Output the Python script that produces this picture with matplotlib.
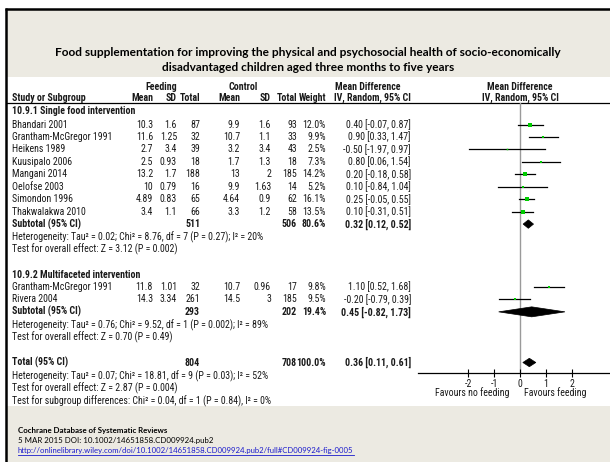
import matplotlib
matplotlib.use("Agg")
import matplotlib.pyplot as plt
from matplotlib import font_manager
from matplotlib.font_manager import FontProperties
from matplotlib.patches import Polygon, Rectangle
import numpy as np

# ---- study data -----------------------------------------------------------
studies1 = ["Bhandari 2001", "Grantham-McGregor 1991", "Heikens 1989", "Kuusipalo 2006",
            "Mangani 2014", "Oelofse 2003", "Simondon 1996", "Thakwalakwa 2010"]
feed_mean1 = [10.3, 11.6, 2.7, 2.5, 13.2, 10, 4.89, 3.4]
feed_sd1 = [1.6, 1.25, 3.4, 0.93, 1.7, 0.79, 0.83, 1.1]
feed_n1 = [87, 32, 39, 18, 188, 16, 65, 66]
ctrl_mean1 = [9.9, 10.7, 3.2, 1.7, 13, 9.9, 4.64, 3.3]
ctrl_sd1 = [1.6, 1.1, 3.4, 1.3, 2, 1.63, 0.9, 1.2]
ctrl_n1 = [93, 33, 43, 18, 185, 14, 62, 58]
weight1 = [12.0, 9.9, 2.5, 7.3, 14.2, 5.2, 16.1, 13.5]
md1 = [0.40, 0.90, -0.50, 0.80, 0.20, 0.10, 0.25, 0.10]
lo1 = [-0.07, 0.33, -1.97, 0.06, -0.18, -0.84, -0.05, -0.31]
hi1 = [0.87, 1.47, 0.97, 1.54, 0.58, 1.04, 0.55, 0.51]

studies2 = ["Grantham-McGregor 1991", "Rivera 2004"]
feed_mean2 = [11.8, 14.3]
feed_sd2 = [1.01, 3.34]
feed_n2 = [32, 261]
ctrl_mean2 = [10.7, 14.5]
ctrl_sd2 = [0.96, 3]
ctrl_n2 = [17, 185]
weight2 = [9.8, 9.5]
md2 = [1.10, -0.20]
lo2 = [0.52, -0.79]
hi2 = [1.68, 0.39]

# pooled estimates: (feeding total, control total, weight, md, lower, upper)
subtotal1 = (511, 506, 80.6, 0.32, 0.12, 0.52)
subtotal2 = (293, 202, 19.4, 0.45, -0.82, 1.73)
total = (804, 708, 100.0, 0.36, 0.11, 0.61)

het1 = ["Heterogeneity: Tau\u00b2 = 0.02; Chi\u00b2 = 8.76, df = 7 (P = 0.27); I\u00b2 = 20%",
        "Test for overall effect: Z = 3.12 (P = 0.002)"]
het2 = ["Heterogeneity: Tau\u00b2 = 0.76; Chi\u00b2 = 9.52, df = 1 (P = 0.002); I\u00b2 = 89%",
        "Test for overall effect: Z = 0.70 (P = 0.49)"]
het_total = ["Heterogeneity: Tau\u00b2 = 0.07; Chi\u00b2 = 18.81, df = 9 (P = 0.03); I\u00b2 = 52%",
             "Test for overall effect: Z = 2.87 (P = 0.004)",
             "Test for subgroup differences: Chi\u00b2 = 0.04, df = 1 (P = 0.84), I\u00b2 = 0%"]

x_ticks = [-2, -1, 0, 1, 2]
favours_left = "Favours no feeding"
favours_right = "Favours feeding"

title_lines = ["Food supplementation for improving the physical and psychosocial health of socio-economically",
               "disadvantaged children aged three months to five years"]
footer_lines = ["Cochrane Database of Systematic Reviews",
                "5 MAR 2015 DOI: 10.1002/14651858.CD009924.pub2",
                "http://onlinelibrary.wiley.com/doi/10.1002/14651858.CD009924.pub2/full#CD009924-fig-0005"]


# ---- table font: prefer a narrow sans face --------------------------------
def pick_table_fonts():
    preferred = ["Liberation Sans Narrow", "Arial Narrow", "Liberation Sans", "Arial",
                 "Roboto Condensed", "Roboto", "Noto Sans", "Open Sans", "DejaVu Sans"]
    narrow = [f for f in font_manager.fontManager.ttflist
              if f.stretch in ("condensed", "semi-condensed", "extra-condensed")
              and f.style == "normal"]
    names = sorted({f.name for f in narrow},
                   key=lambda n: preferred.index(n) if n in preferred else len(preferred))
    for name in names:
        group = [f for f in narrow if f.name == name]
        reg = min(group, key=lambda f: abs(int(f.weight) - 400))
        bold = min(group, key=lambda f: abs(int(f.weight) - 700))
        if int(reg.weight) <= 500 and int(bold.weight) >= 600:
            return FontProperties(fname=reg.fname), FontProperties(fname=bold.fname)
    return (FontProperties(family="Liberation Sans"),
            FontProperties(family="Liberation Sans", weight="bold"))


FP_REG, FP_BOLD = pick_table_fonts()

# ---- figure ---------------------------------------------------------------
W, H = 610, 462
fig = plt.figure(figsize=(W / 100, H / 100), dpi=100)
fig.patch.set_facecolor("white")
bg = fig.add_axes([0, 0, 1, 1])
bg.set_xlim(0, W)
bg.set_ylim(H, 0)
bg.axis("off")

# size the table face so a heterogeneity line spans ~256 px
renderer = fig.canvas.get_renderer()
probe_fp = FP_REG.copy()
probe_fp.set_size(10)
probe = bg.text(0, 0, het1[0], fontproperties=probe_fp)
probe_w = probe.get_window_extent(renderer).width
probe.remove()
FS = min(7.7, 10 * 250 / probe_w)


def fp(bold=False, size=None):
    p = (FP_BOLD if bold else FP_REG).copy()
    p.set_size(size or FS)
    return p


BEIGE = "#ECEAE2"
TXT = "#1a1a1a"

# panels and frame
bg.add_patch(Rectangle((7, 10), W - 7, 67, facecolor=BEIGE, edgecolor="none"))
bg.add_patch(Rectangle((7, 406), W - 7, H - 406, facecolor=BEIGE, edgecolor="none"))
bg.plot([5.5, 5.5], [8, H], color="black", lw=1.8, solid_capstyle="butt")
bg.plot([4.5, W], [8.5, 8.5], color="black", lw=1.8, solid_capstyle="butt")

# title
for i, line in enumerate(title_lines):
    bg.text(308, 53 + 14.5 * i, line, ha="center", va="center", fontsize=8.6,
            fontweight="bold", family="Lato", color="black")

# footer
bg.text(18, 431, footer_lines[0], ha="left", va="center", fontsize=5.7,
        fontweight="bold", family="Lato", color="black")
bg.text(18, 441, footer_lines[1], ha="left", va="center", fontsize=5.7,
        family="Lato", color="black")
link = bg.text(18, 451, footer_lines[2], ha="left", va="center", fontsize=5.6,
               family="Lato", color="#1a1acc")
bb = link.get_window_extent(renderer).transformed(bg.transData.inverted())
bg.plot([bb.x0, bb.x1], [454.5, 454.5], color="#1a1acc", lw=0.6)

# column positions (right edges)
X_NAME = 12
X_FM, X_FSD, X_FN = 153, 177, 200
X_CM, X_CSD, X_CN = 240, 271, 297
X_W, X_CI = 326, 411


def txt(x, y, s, ha="right", bold=False):
    bg.text(x, y, s, ha=ha, va="center", fontproperties=fp(bold), color=TXT)


# header
txt(161, 86.5, "Feeding", ha="center", bold=True)
txt(243, 86.5, "Control", ha="center", bold=True)
txt(368, 86.5, "Mean Difference", ha="center", bold=True)
txt(520, 86.5, "Mean Difference", ha="center", bold=True)
hdr_y = 98
txt(X_NAME, hdr_y, "Study or Subgroup", ha="left", bold=True)
for x, s in [(X_FM, "Mean"), (X_FSD, "SD"), (X_FN, "Total"), (X_CM, "Mean"),
             (X_CSD, "SD"), (X_CN, "Total"), (X_W, "Weight"), (X_CI, "IV, Random, 95% CI")]:
    txt(x, hdr_y, s, bold=True)
txt(520, hdr_y, "IV, Random, 95% CI", ha="center", bold=True)
bg.plot([7, W], [103, 103], color="black", lw=0.9)

# forest axes sharing the pixel rows of the table
AX_L, AX_R, AX_TOP, AX_BOT = 418, W, 103, 373
X0_PX, PX_PER_UNIT = 520, 26
fx = fig.add_axes([AX_L / W, (H - AX_BOT) / H, (AX_R - AX_L) / W, (AX_BOT - AX_TOP) / H])
fx.set_xlim((AX_L - X0_PX) / PX_PER_UNIT, (AX_R - X0_PX) / PX_PER_UNIT)
fx.set_ylim(AX_BOT, AX_TOP)
fx.patch.set_alpha(0)
for side in ["top", "right", "left"]:
    fx.spines[side].set_visible(False)
fx.spines["bottom"].set_linewidth(0.9)
fx.set_yticks([])
fx.set_xticks(x_ticks)
fx.set_xticklabels([str(t) for t in x_ticks], fontproperties=fp(), color=TXT)
fx.tick_params(axis="x", direction="inout", length=6, width=0.8, pad=1)
fx.axvline(0, color="#9a9a9a", lw=1.0, zorder=1)

GREEN = "#00CC00"


def study_row(y, name, fm, fsd, fn, cm, csd, cn, w, m, lo, hi):
    txt(X_NAME, y, name, ha="left")
    txt(X_FM, y, f"{fm:g}")
    txt(X_FSD, y, f"{fsd:g}")
    txt(X_FN, y, f"{fn}")
    txt(X_CM, y, f"{cm:g}")
    txt(X_CSD, y, f"{csd:g}")
    txt(X_CN, y, f"{cn}")
    txt(X_W, y, f"{w:.1f}%")
    txt(X_CI, y, f"{m:.2f} [{lo:.2f}, {hi:.2f}]")
    fx.plot([lo, hi], [y, y], color="black", lw=0.9, zorder=2)
    side_px = 0.95 * np.sqrt(w)
    fx.plot([m], [y], marker="s", ms=side_px * 0.72, color=GREEN, mew=0, zorder=3)


def pooled_row(y, label, pooled, half_h=4.2):
    fn, cn, w, m, lo, hi = pooled
    txt(X_NAME, y, label, ha="left", bold=True)
    txt(X_FN, y, f"{fn}", bold=True)
    txt(X_CN, y, f"{cn}", bold=True)
    txt(X_W, y, f"{w:.1f}%", bold=True)
    txt(X_CI, y, f"{m:.2f} [{lo:.2f}, {hi:.2f}]", bold=True)
    fx.add_patch(Polygon([(lo, y), (m, y - half_h), (hi, y), (m, y + half_h)],
                         closed=True, facecolor="black", edgecolor="black", lw=0.5, zorder=3))


STEP = 12.45

# subgroup 1
txt(X_NAME, 110.5, "10.9.1 Single food intervention", ha="left", bold=True)
y = 124.5
for i in range(len(studies1)):
    study_row(y + STEP * i, studies1[i], feed_mean1[i], feed_sd1[i], feed_n1[i],
              ctrl_mean1[i], ctrl_sd1[i], ctrl_n1[i], weight1[i], md1[i], lo1[i], hi1[i])
y_sub1 = y + STEP * len(studies1)
pooled_row(y_sub1, "Subtotal (95% CI)", subtotal1)
for j, s in enumerate(het1):
    txt(X_NAME, y_sub1 + 13 + STEP * j, s, ha="left")

# subgroup 2
y_g2 = 274.5
txt(X_NAME, y_g2, "10.9.2 Multifaceted intervention", ha="left", bold=True)
for i in range(len(studies2)):
    study_row(y_g2 + STEP * (i + 1), studies2[i], feed_mean2[i], feed_sd2[i], feed_n2[i],
              ctrl_mean2[i], ctrl_sd2[i], ctrl_n2[i], weight2[i], md2[i], lo2[i], hi2[i])
y_sub2 = y_g2 + STEP * (len(studies2) + 1)
pooled_row(y_sub2, "Subtotal (95% CI)", subtotal2, half_h=5)
for j, s in enumerate(het2):
    txt(X_NAME, y_sub2 + 13 + STEP * j, s, ha="left")

# overall
y_tot = 362.5
pooled_row(y_tot, "Total (95% CI)", total)
for j, s in enumerate(het_total):
    txt(X_NAME, y_tot + 13.5 + STEP * j + 0.2 * j, s, ha="left")

txt(509, 393, favours_left, ha="right")
txt(524, 393, favours_right, ha="left")

fig.savefig("out.png", dpi=100, facecolor="white")
